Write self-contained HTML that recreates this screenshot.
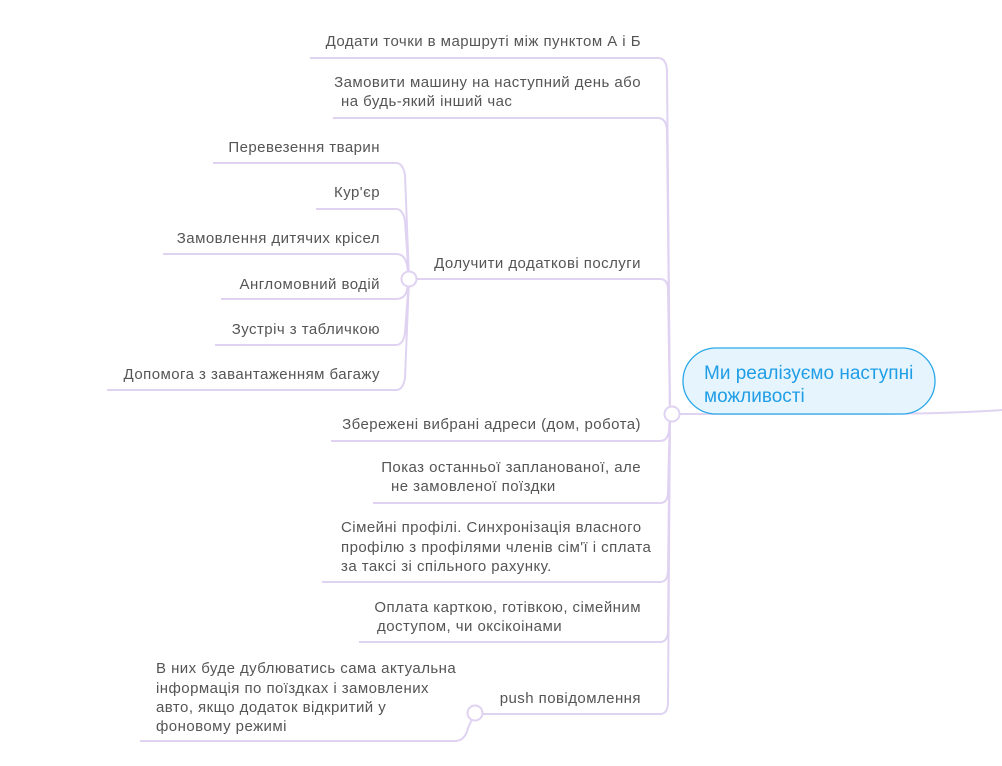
<!DOCTYPE html>
<html><head><meta charset="utf-8"><style>
html,body{margin:0;padding:0;background:#fff;}
svg{display:block;}
text{font-family:"Liberation Sans","DejaVu Sans",sans-serif;font-size:15px;letter-spacing:0.45px;fill:#555;}
</style></head><body>
<svg width="1002" height="766" viewBox="0 0 1002 766" xmlns="http://www.w3.org/2000/svg">
<g fill="none" stroke="#e0d3f2" stroke-width="2">
<path d="M310,58 L658,58 Q666,58 667,70 L670,414"/>
<path d="M333,118 L658,118 Q666,118 667,130 L670,414"/>
<path d="M414,279 L660,279 Q668,279 668,290 L670,414"/>
<path d="M331,441 L660,441 Q668,441 669,430 L670,414"/>
<path d="M373,503 L660,503 Q668,503 668,492 L670,414"/>
<path d="M322,582 L660,582 Q668,582 668,570 L670,414"/>
<path d="M359,642 L660,642 Q668,642 668,630 L670,414"/>
<path d="M480,714 L660,714 Q668,714 668,702 L670,414"/>
<path d="M678,414 L850,414 Q950,414 1002,410"/>
<path d="M213,163 L396,163 Q403,163 405,175 L409,279"/>
<path d="M316,209 L396,209 Q403,209 405,221 L409,279"/>
<path d="M163,254 L396,254 Q405,254 407,265 L409,279"/>
<path d="M221,299 L396,299 Q405,299 407,290 L409,279"/>
<path d="M215,345 L396,345 Q403,345 405,333 L409,279"/>
<path d="M107,390 L396,390 Q403,390 405,378 L409,279"/>
<path d="M140,741 L455,741 Q465,741 468,728 L475,713"/>
</g>
<g fill="#fff" stroke="#e0d3f2" stroke-width="2">
<circle cx="672" cy="414" r="7.5"/>
<circle cx="409" cy="279" r="7.5"/>
<circle cx="475" cy="713" r="7.5"/>
</g>
<rect x="683" y="348" width="252" height="66" rx="33" fill="#e6f5fd" stroke="#2aa7e8" stroke-width="1.3"/>
<text x="704" y="379" style="font-size:19px;letter-spacing:0;fill:#1f9de6">Ми реалізуємо наступні</text>
<text x="704" y="402" style="font-size:19px;letter-spacing:0;fill:#1f9de6">можливості</text>
<g text-anchor="end">
<text x="641" y="46">Додати точки в маршруті між пунктом А і Б</text>
<text x="641" y="87">Замовити машину на наступний день або</text>
<text x="341" y="106" text-anchor="start">на будь-який інший час</text>
<text x="641" y="268">Долучити додаткові послуги</text>
<text x="641" y="429">Збережені вибрані адреси (дом, робота)</text>
<text x="641" y="472">Показ останньої запланованої, але</text>
<text x="391" y="491" text-anchor="start">не замовленої поїздки</text>
<text x="341" y="532" text-anchor="start">Сімейні профілі. Синхронізація власного</text>
<text x="341" y="552" text-anchor="start">профілю з профілями членів сім'ї і сплата</text>
<text x="341" y="571" text-anchor="start">за таксі зі спільного рахунку.</text>
<text x="641" y="612">Оплата карткою, готівкою, сімейним</text>
<text x="377" y="631" text-anchor="start">доступом, чи оксікоінами</text>
<text x="641" y="703">push повідомлення</text>
<text x="380" y="152">Перевезення тварин</text>
<text x="380" y="197">Кур'єр</text>
<text x="380" y="243">Замовлення дитячих крісел</text>
<text x="380" y="289">Англомовний водій</text>
<text x="380" y="334">Зустріч з табличкою</text>
<text x="380" y="379">Допомога з завантаженням багажу</text>
</g>
<text x="156" y="673">В них буде дублюватись сама актуальна</text>
<text x="156" y="693">інформація по поїздках і замовлених</text>
<text x="156" y="712">авто, якщо додаток відкритий у</text>
<text x="156" y="731">фоновому режимі</text>
</svg>
</body></html>
